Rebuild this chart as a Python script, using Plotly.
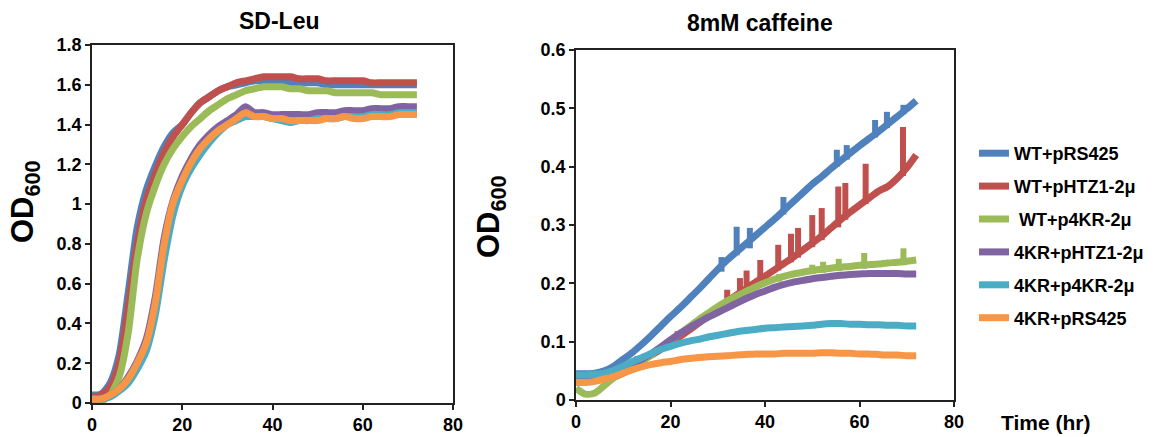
import plotly.graph_objects as go

# ---------------- data ----------------
time_h = [0, 2, 4, 6, 8, 10, 12, 14, 16, 18, 20, 22, 24, 26, 28, 30, 32, 34, 36,
          38, 40, 42, 44, 46, 48, 50, 52, 54, 56, 58, 60, 62, 64, 66, 68, 70, 72]

series_names = ["WT+pRS425", "WT+pHTZ1-2\u03bc", "\u00a0WT+p4KR-2\u03bc",
                "4KR+pHTZ1-2\u03bc", "4KR+p4KR-2\u03bc", "4KR+pRS425"]
series_colors = ["#4F81BD", "#C0504D", "#9BBB59", "#8064A2", "#4BACC6", "#F79646"]

x_ticks = [0, 20, 40, 60, 80]
x_tick_labels = ["0", "20", "40", "60", "80"]
sd_y_ticks = [0, 0.2, 0.4, 0.6, 0.8, 1.0, 1.2, 1.4, 1.6, 1.8]
sd_y_tick_labels = ["0", "0.2", "0.4", "0.6", "0.8", "1", "1.2", "1.4", "1.6", "1.8"]
caf_y_ticks = [0, 0.1, 0.2, 0.3, 0.4, 0.5, 0.6]
caf_y_tick_labels = ["0", "0.1", "0.2", "0.3", "0.4", "0.5", "0.6"]

# SD-Leu panel (OD600)
sd_wt_prs425 = [0.04, 0.045, 0.10, 0.24, 0.55, 0.88, 1.07, 1.19, 1.29, 1.36, 1.40, 1.46, 1.51,
                1.54, 1.57, 1.59, 1.60, 1.61, 1.62, 1.62, 1.62, 1.62, 1.61, 1.61, 1.61, 1.61,
                1.60, 1.60, 1.60, 1.60, 1.60, 1.60, 1.60, 1.60, 1.60, 1.60, 1.60]
sd_wt_phtz1 = [0.03, 0.04, 0.08, 0.20, 0.48, 0.80, 1.02, 1.15, 1.26, 1.34, 1.40, 1.46, 1.51,
               1.54, 1.57, 1.59, 1.61, 1.62, 1.63, 1.64, 1.64, 1.64, 1.64, 1.63, 1.63, 1.63,
               1.62, 1.62, 1.62, 1.62, 1.62, 1.61, 1.61, 1.61, 1.61, 1.61, 1.61]
sd_wt_p4kr = [0.01, 0.01, 0.04, 0.13, 0.35, 0.72, 0.95, 1.09, 1.20, 1.28, 1.34, 1.39, 1.43,
              1.47, 1.50, 1.53, 1.55, 1.57, 1.58, 1.59, 1.59, 1.59, 1.58, 1.58, 1.57, 1.57,
              1.57, 1.56, 1.56, 1.56, 1.56, 1.56, 1.55, 1.55, 1.55, 1.55, 1.55]
sd_4kr_phtz1 = [0.02, 0.02, 0.04, 0.07, 0.13, 0.21, 0.32, 0.53, 0.83, 1.02, 1.14, 1.23, 1.30,
                1.35, 1.39, 1.42, 1.45, 1.49, 1.46, 1.46, 1.45, 1.45, 1.45, 1.45, 1.45, 1.46,
                1.46, 1.46, 1.47, 1.47, 1.47, 1.48, 1.48, 1.48, 1.49, 1.49, 1.49]
sd_4kr_p4kr = [0.02, 0.02, 0.03, 0.06, 0.10, 0.17, 0.26, 0.44, 0.72, 0.95, 1.09, 1.18, 1.25,
               1.31, 1.36, 1.40, 1.42, 1.44, 1.44, 1.44, 1.43, 1.42, 1.41, 1.42, 1.42, 1.43,
               1.43, 1.43, 1.44, 1.44, 1.44, 1.45, 1.45, 1.45, 1.46, 1.46, 1.46]
sd_4kr_prs425 = [0.02, 0.02, 0.04, 0.07, 0.12, 0.20, 0.30, 0.50, 0.80, 1.01, 1.12, 1.21, 1.28,
                 1.33, 1.37, 1.40, 1.43, 1.46, 1.44, 1.44, 1.43, 1.43, 1.42, 1.42, 1.42, 1.42,
                 1.43, 1.43, 1.44, 1.43, 1.43, 1.44, 1.44, 1.44, 1.45, 1.45, 1.45]

# 8mM caffeine panel (OD600)
caf_wt_prs425 = [0.045, 0.045, 0.046, 0.05, 0.058, 0.070, 0.082, 0.096, 0.111, 0.127, 0.143,
                 0.158, 0.174, 0.190, 0.207, 0.224, 0.240, 0.254, 0.268, 0.282, 0.296, 0.310,
                 0.325, 0.340, 0.355, 0.370, 0.383, 0.397, 0.410, 0.423, 0.436, 0.448, 0.460,
                 0.473, 0.486, 0.499, 0.513]
caf_wt_phtz1 = [0.035, 0.036, 0.038, 0.042, 0.047, 0.053, 0.060, 0.068, 0.077, 0.087, 0.098,
                0.109, 0.120, 0.132, 0.145, 0.158, 0.169, 0.180, 0.191, 0.202, 0.212, 0.223,
                0.234, 0.245, 0.257, 0.269, 0.281, 0.295, 0.309, 0.322, 0.334, 0.346, 0.358,
                0.366, 0.380, 0.398, 0.420]
caf_wt_p4kr = [0.020, 0.010, 0.012, 0.025, 0.038, 0.046, 0.055, 0.066, 0.078, 0.090, 0.102,
               0.114, 0.126, 0.138, 0.149, 0.160, 0.170, 0.178, 0.186, 0.194, 0.201, 0.207,
               0.212, 0.216, 0.219, 0.222, 0.224, 0.226, 0.228, 0.229, 0.231, 0.232, 0.233,
               0.235, 0.236, 0.238, 0.240]
caf_4kr_phtz1 = [0.040, 0.040, 0.042, 0.045, 0.050, 0.055, 0.062, 0.070, 0.080, 0.091, 0.103,
                 0.114, 0.124, 0.133, 0.142, 0.150, 0.158, 0.166, 0.174, 0.181, 0.187, 0.193,
                 0.198, 0.202, 0.205, 0.208, 0.210, 0.212, 0.214, 0.215, 0.216, 0.217, 0.217,
                 0.217, 0.217, 0.216, 0.216]
caf_4kr_p4kr = [0.043, 0.043, 0.044, 0.046, 0.051, 0.058, 0.066, 0.073, 0.080, 0.087, 0.092,
                0.097, 0.101, 0.104, 0.108, 0.111, 0.114, 0.117, 0.119, 0.121, 0.123, 0.124,
                0.125, 0.126, 0.127, 0.128, 0.130, 0.131, 0.131, 0.130, 0.130, 0.129, 0.129,
                0.128, 0.128, 0.127, 0.127]
caf_4kr_prs425 = [0.030, 0.030, 0.032, 0.036, 0.040, 0.046, 0.052, 0.057, 0.061, 0.064, 0.066,
                  0.069, 0.071, 0.073, 0.074, 0.075, 0.076, 0.077, 0.078, 0.079, 0.079, 0.079,
                  0.080, 0.080, 0.080, 0.080, 0.081, 0.081, 0.080, 0.080, 0.079, 0.079, 0.078,
                  0.077, 0.077, 0.076, 0.076]

# isolated spikes in the caffeine readings: time, baseline, peak
spike_blue_t = [30.8, 34.0, 36.8, 43.9, 55.2, 57.3, 63.3, 65.8, 69.3]
spike_blue_base = [0.220, 0.248, 0.260, 0.318, 0.400, 0.412, 0.450, 0.466, 0.490]
spike_blue_peak = [0.245, 0.297, 0.295, 0.348, 0.429, 0.437, 0.480, 0.494, 0.506]
spike_red_t = [13.0, 21.5, 32.0, 34.7, 36.1, 39.0, 42.8, 45.5, 47.0, 50.0, 52.0, 55.5, 57.0, 61.3, 69.2]
spike_red_base = [0.060, 0.100, 0.163, 0.176, 0.184, 0.200, 0.222, 0.236, 0.244, 0.262, 0.274,
                  0.296, 0.309, 0.336, 0.384]
spike_red_peak = [0.075, 0.118, 0.189, 0.209, 0.222, 0.240, 0.266, 0.285, 0.295, 0.317, 0.329,
                  0.366, 0.372, 0.405, 0.468]
spike_green_t = [43.0, 50.0, 52.3, 55.6, 61.0, 69.3]
spike_green_base = [0.203, 0.216, 0.218, 0.221, 0.225, 0.231]
spike_green_peak = [0.216, 0.232, 0.237, 0.242, 0.252, 0.260]

sd_series = [sd_wt_prs425, sd_wt_phtz1, sd_wt_p4kr, sd_4kr_phtz1, sd_4kr_p4kr, sd_4kr_prs425]
caf_series = [caf_wt_prs425, caf_wt_phtz1, caf_wt_p4kr, caf_4kr_phtz1, caf_4kr_p4kr, caf_4kr_prs425]
caf_spikes = {0: (spike_blue_t, spike_blue_base, spike_blue_peak),
              1: (spike_red_t, spike_red_base, spike_red_peak),
              2: (spike_green_t, spike_green_base, spike_green_peak)}

# ---------------- figure ----------------
W, H = 1173, 437
FONT = "Arial, Liberation Sans, sans-serif"
LW = 7

fig = go.Figure()

for i, (name, col) in enumerate(zip(series_names, series_colors)):
    fig.add_trace(go.Scatter(x=time_h, y=sd_series[i], mode="lines", name=name,
                             legendgroup=f"g{i}", showlegend=False,
                             line=dict(color=col, width=LW, shape="spline", smoothing=0.7),
                             xaxis="x", yaxis="y"))

for i, (name, col) in enumerate(zip(series_names, series_colors)):
    fig.add_trace(go.Scatter(x=time_h, y=caf_series[i], mode="lines", name=name,
                             legendgroup=f"g{i}", showlegend=True,
                             line=dict(color=col, width=LW, shape="spline", smoothing=0.7),
                             xaxis="x2", yaxis="y2"))
    if i in caf_spikes:
        st, sb, sp = caf_spikes[i]
        xs, ys = [], []
        for t, b, p in zip(st, sb, sp):
            xs += [t, t, None]
            ys += [b, p, None]
        fig.add_trace(go.Scatter(x=xs, y=ys, mode="lines", legendgroup=f"g{i}",
                                 showlegend=False, hoverinfo="skip",
                                 line=dict(color=col, width=LW - 1),
                                 xaxis="x2", yaxis="y2"))

def px_x(p):
    return p / W

def px_y(p):
    return 1 - p / H

def bold(labels):
    return [f"<b>{s}</b>" for s in labels]

axis_common = dict(showline=True, linecolor="#222222", linewidth=1.5, mirror=True,
                   ticks="outside", ticklen=5, tickwidth=1.5, tickcolor="#222222",
                   showgrid=False, zeroline=False, tickmode="array", automargin=False,
                   tickfont=dict(family=FONT, size=18, color="black"))

fig.update_layout(
    width=W, height=H,
    margin=dict(l=0, r=0, t=0, b=0, autoexpand=False),
    paper_bgcolor="white", plot_bgcolor="white",
    font=dict(family=FONT, color="black"),
    xaxis=dict(domain=[px_x(92), px_x(453)], range=[0, 80], anchor="y",
               tickvals=x_ticks, ticktext=bold(x_tick_labels), **axis_common),
    yaxis=dict(domain=[px_y(403), px_y(45)], range=[0, 1.8], anchor="x",
               tickvals=sd_y_ticks, ticktext=bold(sd_y_tick_labels), **axis_common),
    xaxis2=dict(domain=[px_x(576), px_x(954)], range=[0, 80], anchor="y2",
                tickvals=x_ticks, ticktext=bold(x_tick_labels), **axis_common),
    yaxis2=dict(domain=[px_y(400), px_y(50)], range=[0, 0.6], anchor="x2",
                tickvals=caf_y_ticks, ticktext=bold(caf_y_tick_labels), **axis_common),
    showlegend=True,
    legend=dict(x=px_x(974), y=px_y(135), xanchor="left", yanchor="top",
                traceorder="grouped", tracegroupgap=6.5, bgcolor="rgba(0,0,0,0)",
                font=dict(family=FONT, size=18, color="black", weight="bold")),
)

annos = [
    dict(text="SD-Leu", x=px_x(279), y=px_y(21), size=23, angle=0),
    dict(text="8mM caffeine", x=px_x(760), y=px_y(23), size=23, angle=0),
    dict(text="OD<sub>600</sub>", x=px_x(25), y=px_y(202), size=31, angle=-90),
    dict(text="OD<sub>600</sub>", x=px_x(491), y=px_y(217), size=31, angle=-90),
    dict(text="Time (hr)", x=px_x(1045), y=px_y(422), size=21, angle=0),
]
for a in annos:
    fig.add_annotation(text=f"<b>{a['text']}</b>", x=a["x"], y=a["y"], xref="paper", yref="paper",
                       xanchor="center", yanchor="middle", showarrow=False,
                       textangle=a["angle"],
                       font=dict(family=FONT, size=a["size"], color="black"))

fig.write_html("out.html")
